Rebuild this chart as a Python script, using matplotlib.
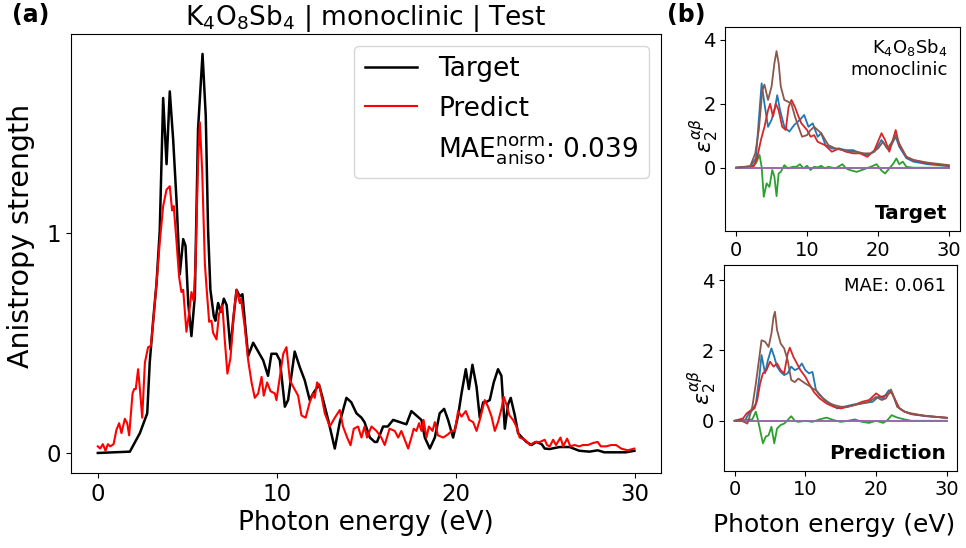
import numpy as np
import matplotlib
matplotlib.use('Agg')
from matplotlib import pyplot as plt
from matplotlib.lines import Line2D

## DATA
# panel (a): anisotropy strength vs photon energy
target_energy = [0, 1.79, 2.35, 2.76, 2.9, 3.09, 3.28, 3.46, 3.65, 3.84, 4.02, 4.21, 4.40, 4.58,
                 4.77, 4.9, 5.05, 5.23, 5.42, 5.60, 5.85, 6.03, 6.16, 6.29, 6.48, 6.57, 6.72, 6.87,
                 7.04, 7.2, 7.41, 7.56, 7.75, 7.93, 8.08, 8.21, 8.40, 8.68, 8.96, 9.24, 9.51, 9.70,
                 9.98, 10.17, 10.45, 10.63, 11.0, 11.28, 11.56, 11.84, 12.03, 12.36, 12.59, 12.87,
                 13.24, 13.52, 13.89, 14.16, 14.45, 14.73, 14.9, 15.20, 15.47, 15.6, 15.94, 16.2,
                 16.5, 16.87, 17.24, 17.52, 17.8, 18.08, 18.27, 18.55, 18.83, 19.1, 19.35, 19.57,
                 19.85, 20.13, 20.32, 20.56, 20.73, 20.93, 21.16, 21.34, 21.53, 21.68, 21.9, 22.12,
                 22.36, 22.55, 22.74, 22.92, 23.07, 23.3, 23.48, 23.7, 23.95, 24.23, 24.5, 24.8,
                 24.97, 25.25, 25.8, 26.36, 26.9, 27.47, 27.93, 28.3, 28.96, 29.5, 29.98]
target_value = [0, 0.006, 0.09, 0.18, 0.41, 0.60, 0.77, 1.01, 1.61, 1.31, 1.64, 1.42, 1.14, 0.81,
                0.97, 0.94, 0.68, 0.53, 0.71, 1.47, 1.81, 1.53, 1.01, 0.74, 0.62, 0.60, 0.68, 0.64,
                0.70, 0.67, 0.47, 0.60, 0.74, 0.71, 0.72, 0.60, 0.44, 0.50, 0.46, 0.42, 0.35, 0.45,
                0.45, 0.42, 0.21, 0.24, 0.46, 0.39, 0.33, 0.24, 0.27, 0.31, 0.24, 0.15,
                0.02, 0.14, 0.25, 0.23, 0.18, 0.16, 0.14, 0.07, 0.05, 0.05, 0.12, 0.12,
                0.15, 0.14, 0.13, 0.19, 0.17, 0.15, 0.07, 0.02, 0.07, 0.18, 0.20, 0.15,
                0.07, 0.17, 0.27, 0.38, 0.29, 0.40, 0.30, 0.16, 0.23, 0.23, 0.24, 0.32,
                0.38, 0.35, 0.11, 0.22, 0.25, 0.17, 0.09, 0.07, 0.05, 0.036, 0.05, 0.04,
                0.02, 0.018, 0.027, 0.027, 0.01, 0.006, 0.012, 0.003, 0.003, 0.003, 0.01]

pred_energy = [0, 0.13, 0.28, 0.43, 0.56, 0.69, 0.88, 1.04, 1.19, 1.32, 1.51, 1.64, 1.75, 1.94,
               2.03, 2.12, 2.25, 2.35, 2.48, 2.63, 2.81, 2.96, 3.09, 3.28, 3.46, 3.65, 3.84, 4.02,
               4.15, 4.24, 4.40, 4.54, 4.67, 4.77, 4.95, 5.10, 5.23, 5.35, 5.46, 5.6, 5.70, 5.83,
               5.98, 6.07, 6.22, 6.35, 6.44, 6.63, 6.77, 6.96, 7.09, 7.24, 7.41, 7.6, 7.75, 7.93,
               8.0, 8.21, 8.40, 8.59, 8.77, 8.96, 9.15, 9.27, 9.46, 9.65, 9.89, 9.98, 10.17, 10.36,
               10.54, 10.73, 10.92, 11.19, 11.38, 11.61, 11.84, 12.03, 12.12, 12.25, 12.4, 12.68,
               12.96, 13.24, 13.52, 13.7, 13.93, 14.12, 14.3, 14.54, 14.73, 14.9, 15.04, 15.29,
               15.57, 15.84, 16.03, 16.3, 16.59, 16.78, 16.96, 17.15, 17.34, 17.52, 17.65, 17.8,
               17.95, 18.08, 18.2, 18.36, 18.5, 18.7, 18.83, 19.0, 19.3, 19.57, 19.77, 19.95,
               20.13, 20.32, 20.56, 20.75, 20.97, 21.16, 21.34, 21.62, 21.8, 22.0, 22.18, 22.36,
               22.55, 22.68, 22.83, 23.0, 23.2, 23.39, 23.57, 23.86, 24.14, 24.42, 24.7, 24.97,
               25.1, 25.25, 25.44, 25.6, 25.85, 26.0, 26.22, 26.4, 26.63, 26.9, 27.1, 27.38,
               27.66, 27.93, 28.1, 28.4, 28.68, 28.96, 29.24, 29.6, 29.98]
pred_value = [0.03, 0.02, 0.04, 0.01, 0.04, 0.03, 0.04, 0.105, 0.135, 0.09, 0.155, 0.135, 0.08, 0.27,
              0.29, 0.29, 0.38, 0.29, 0.16, 0.41, 0.48, 0.485, 0.59, 0.77, 0.955, 1.12, 1.195, 1.21,
              1.10, 1.12, 0.955, 0.80, 0.73, 0.74, 0.55, 0.635, 0.73, 0.69, 0.86, 1.32, 1.50, 1.28,
              0.86, 0.755, 0.595, 0.60, 0.545, 0.515, 0.63, 0.67, 0.515, 0.36, 0.43, 0.635, 0.74, 0.68,
              0.70, 0.57, 0.42, 0.32, 0.25, 0.27, 0.345, 0.26, 0.32, 0.28, 0.27, 0.24, 0.345, 0.45,
              0.48, 0.33, 0.30, 0.26, 0.17, 0.16, 0.23, 0.27, 0.25, 0.32, 0.30, 0.18,
              0.12, 0.16, 0.195, 0.12, 0.07, 0.035, 0.11, 0.12, 0.07, 0.12, 0.07, 0.12,
              0.10, 0.07, 0.036, 0.11, 0.10, 0.07, 0.10, 0.06, 0.02, 0.07, 0.11, 0.10,
              0.135, 0.10, 0.15, 0.07, 0.12, 0.10, 0.14, 0.08, 0.07, 0.085, 0.10, 0.10,
              0.19, 0.165, 0.19, 0.15, 0.14, 0.10, 0.15, 0.24, 0.21, 0.165, 0.10, 0.14,
              0.20, 0.255, 0.22, 0.17, 0.15, 0.12, 0.07, 0.06, 0.036, 0.05, 0.05, 0.06,
              0.036, 0.03, 0.06, 0.036, 0.07, 0.03, 0.065, 0.03, 0.036, 0.03, 0.036, 0.036,
              0.045, 0.05, 0.03, 0.03, 0.036, 0.036, 0.02, 0.012, 0.02]

mae_aniso = 0.039

# panel (b): dielectric tensor components, target
tgt_xx_e = [0, 2, 2.8, 3.2, 3.6, 4.0, 4.5, 5.0, 5.5, 5.8, 6.2, 6.8, 7.5, 8.2, 9.0, 9.6, 10.2, 10.8,
            11.5, 12.0, 12.6, 13.5, 14.5, 15.5, 16.5, 17.5, 18.5, 19.5, 20.5, 21.0, 21.5, 22.5,
            23.0, 24.0, 25.0, 27.0, 30.0]
tgt_xx = [0, 0.03, 0.3, 1.5, 2.64, 2.0, 1.28, 1.5, 1.9, 2.27, 1.8, 1.28, 1.13, 1.34, 1.5, 1.65, 1.28,
          1.39, 0.97, 1.08, 0.71, 0.6, 0.6, 0.55, 0.55, 0.45, 0.4, 0.5, 0.87, 0.71, 0.55, 0.97,
          0.66, 0.3, 0.19, 0.11, 0.05]
tgt_xz_e = [0, 2.0, 2.8, 3.3, 3.6, 3.9, 4.3, 4.7, 5.1, 5.4, 5.7, 6.0, 6.3, 6.8, 7.3, 8.0, 8.5, 9.0,
            9.5, 10.0, 10.5, 11.0, 11.5, 12.0, 12.5, 13.0, 14.0, 15.0, 15.5, 16.0, 17.0, 18.0, 19.0,
            19.8, 20.5, 21.0, 21.5, 22.2, 22.6, 23.0, 23.5, 24.0, 25.0, 30.0]
tgt_xz = [0, 0, 0.14, 0.4, 0.03, -0.91, -0.49, -0.6, -0.07, -0.28, -0.89, -0.18, -0.13, 0.08, -0.02,
          0.03, 0.03, 0.11, -0.02, 0.06, -0.07, 0.03, 0.01, 0.06, -0.02, 0.03, -0.02, 0.11, -0.02,
          -0.07, -0.13, -0.05, 0.03, 0.11, -0.09, -0.18, -0.05, 0.14, 0.29, 0.11, 0.19, 0.03, 0, 0]
tgt_yy_e = [0, 2.5, 3.0, 3.5, 4.0, 4.5, 4.8, 5.2, 5.6, 6.0, 6.5, 7.0, 7.4, 7.8, 8.3, 8.8, 9.2, 10.0,
            10.5, 11.0, 11.5, 12.5, 13.5, 14.5, 15.5, 16.5, 17.5, 18.5, 19.5, 20.5, 21.0, 21.6, 22.5,
            23.0, 24.0, 25.0, 27.0, 30.0]
tgt_yy = [0, 0.05, 0.34, 0.87, 1.28, 1.8, 2.0, 1.6, 2.0, 1.8, 1.28, 1.18, 1.9, 2.12, 1.9, 1.6, 1.39,
          1.18, 0.97, 1.02, 0.81, 0.71, 0.5, 0.6, 0.5, 0.45, 0.45, 0.34, 0.55, 1.08, 0.87, 0.5, 1.18,
          0.71, 0.34, 0.24, 0.14, 0.06]
tgt_zz_e = [0, 2.0, 2.7, 3.2, 3.7, 4.0, 4.5, 5.0, 5.4, 5.7, 6.0, 6.3, 6.8, 7.3, 7.8, 8.3, 8.8, 9.3,
            10.0, 10.5, 11.0, 11.5, 12.0, 13.0, 14.0, 15.0, 16.0, 17.0, 18.0, 19.0, 20.0, 20.7, 21.3,
            22.0, 22.5, 23.0, 24.0, 25.0, 27.0, 30.0]
tgt_zz = [0, 0.05, 0.45, 1.18, 2.43, 2.6, 2.12, 2.54, 3.27, 3.65, 3.27, 2.54, 2.12, 2.07, 2.0, 1.6,
          1.28, 0.97, 1.02, 1.18, 1.28, 1.18, 1.08, 0.71, 0.6, 0.55, 0.5, 0.5, 0.45, 0.45, 0.6, 0.81,
          0.6, 0.81, 1.02, 0.76, 0.34, 0.24, 0.16, 0.08]

# panel (b): dielectric tensor components, prediction
prd_xx_e = [0, 1.5, 2.0, 2.5, 3.0, 3.5, 3.8, 4.3, 4.7, 5.2, 5.6, 6.0, 6.5, 7.0, 7.5, 8.0, 8.5, 9.0,
            9.5, 10.0, 10.5, 11.0, 11.5, 12.5, 13.5, 14.5, 15.5, 16.5, 17.5, 18.5, 19.5, 20.3, 21.0,
            21.8, 22.3, 23.0, 24.0, 25.0, 27.0, 30.0]
prd_xx = [0, 0.02, 0.21, 0.30, 0.49, 1.25, 1.87, 1.35, 1.72, 2.06, 1.82, 1.54, 1.39, 1.30, 1.35, 1.54,
          1.44, 1.49, 1.63, 1.44, 1.35, 1.39, 0.87, 0.64, 0.49, 0.35, 0.40, 0.45, 0.49, 0.51, 0.54,
          0.68, 0.64, 0.87, 0.78, 0.40, 0.26, 0.19, 0.13, 0.085]
prd_xz_e = [0, 2.5, 3.0, 3.3, 3.7, 4.0, 4.4, 4.8, 5.2, 5.6, 6.0, 6.5, 7.0, 7.5, 8.0, 8.5, 9.0, 10.0,
            11.0, 12.0, 13.0, 14.0, 15.0, 16.0, 17.0, 18.0, 19.0, 20.0, 21.0, 21.6, 22.2, 23.0, 24.0,
            25.0, 30.0]
prd_xz = [0, 0.04, 0.26, 0.02, -0.36, -0.64, -0.45, -0.41, -0.17, -0.64, -0.22, -0.12, -0.08, 0.02,
          0.13, 0, -0.03, 0, -0.03, 0.04, 0.09, 0.02, -0.03, 0, 0.04, -0.03, -0.06, 0, -0.06, 0.02,
          0.16, 0.09, 0.04, 0, 0]
prd_yy_e = [0, 1.2, 1.7, 2.3, 2.8, 3.2, 3.6, 4.0, 4.5, 5.0, 5.5, 6.0, 6.5, 7.0, 7.5, 7.8, 8.3, 8.8,
            9.3, 10.0, 10.5, 11.2, 12.0, 13.0, 14.0, 15.0, 16.0, 17.0, 18.0, 19.0, 20.0, 20.7, 21.5,
            22.1, 22.6, 23.3, 24.0, 25.0, 27.0, 30.0]
prd_yy = [0, 0.07, 0.21, 0.30, 0.35, 0.59, 1.06, 1.35, 1.44, 1.68, 1.54, 1.63, 1.44, 1.35, 1.91, 2.08,
          1.82, 1.63, 1.44, 1.25, 1.06, 0.82, 0.64, 0.49, 0.40, 0.35, 0.40, 0.45, 0.54, 0.59, 0.78,
          0.68, 0.73, 0.82, 0.64, 0.35, 0.26, 0.19, 0.14, 0.085]
prd_zz_e = [0, 1.0, 1.8, 2.1, 2.5, 3.0, 3.5, 3.8, 4.3, 4.8, 5.2, 5.5, 5.7, 6.0, 6.5, 7.0, 7.5, 8.0,
            8.5, 9.0, 10.0, 10.5, 11.0, 11.5, 12.0, 13.0, 14.0, 15.0, 16.0, 17.0, 18.0, 19.0, 20.0,
            20.8, 21.4, 22.1, 22.5, 23.0, 24.0, 25.0, 27.0, 30.0]
prd_zz = [0, 0, -0.08, 0.11, 0.40, 1.06, 1.82, 2.29, 2.25, 2.10, 2.48, 2.96, 3.10, 2.58, 2.20, 2.06,
          1.72, 1.16, 1.10, 1.20, 1.06, 1.00, 0.92, 0.87, 0.73, 0.54, 0.45, 0.40, 0.40, 0.45, 0.49,
          0.54, 0.68, 0.59, 0.64, 0.89, 0.68, 0.40, 0.26, 0.21, 0.14, 0.085]

# off-diagonal xy and yz are zero for monoclinic
zero_e = [0, 30]
zero_v = [0, 0]

mae_pred = 0.061

fig = plt.figure(figsize=(9.66, 5.48), dpi=100)

## panel (a)
ax = fig.add_axes([0.0735, 0.137, 0.611, 0.801])
ax.plot(target_energy, target_value, color='black', lw=1.8, label='Target')
ax.plot(pred_energy, pred_value, color='red', lw=1.5, label='Predict')
ax.set_yticks([0, 1])
ax.set_yticklabels(['0', '1'])
ax.set_xticks([0, 10, 20, 30])
ax.tick_params(labelsize=16.5)
ax.set_xlabel('Photon energy (eV)', fontsize=19, labelpad=3)
ax.set_ylabel('Anistropy strength', fontsize=20.5)
ax.yaxis.set_label_coords(-0.061, 0.54)
ax.set_title(r'K$_4$O$_8$Sb$_4$ | monoclinic | Test', fontsize=19, pad=4)

handles, labels = ax.get_legend_handles_labels()
handles.append(Line2D([], [], color='none'))
labels.append(r'MAE$_{\rm aniso}^{\rm norm}$: %.3f' % mae_aniso)
ax.legend(handles, labels, loc='upper right', fontsize=19, borderaxespad=0.45)

fig.text(0.012, 0.972, '(a)', fontsize=17, fontweight='bold', va='center')
fig.text(0.69, 0.972, '(b)', fontsize=17, fontweight='bold', va='center')

## panel (b)
panels = [
    ([0.751, 0.5785, 0.2423, 0.372], (-1.98, 4.4), 0.47,
     [(tgt_xx_e, tgt_xx), (zero_e, zero_v), (tgt_xz_e, tgt_xz), (tgt_yy_e, tgt_yy),
      (zero_e, zero_v), (tgt_zz_e, tgt_zz)], 'Target'),
    ([0.7495, 0.141, 0.2417, 0.3754], (-1.42, 4.43), 0.405,
     [(prd_xx_e, prd_xx), (zero_e, zero_v), (prd_xz_e, prd_xz), (prd_yy_e, prd_yy),
      (zero_e, zero_v), (prd_zz_e, prd_zz)], 'Prediction'),
]
for rect, ylim, label_y, comps, tag in panels:
    bx = fig.add_axes(rect)
    for e, v in comps:
        bx.plot(e, v, lw=1.3)
    bx.set_ylim(*ylim)
    bx.set_xticks([0, 10, 20, 30])
    bx.set_yticks([0, 2, 4])
    bx.tick_params(labelsize=14)
    bx.set_ylabel(r'$\varepsilon_2^{\alpha\beta}$', fontsize=16)
    bx.yaxis.set_label_coords(-0.02, label_y)
    bx.text(0.95, 0.04, tag, transform=bx.transAxes, ha='right', va='bottom',
            fontsize=14.5, fontweight='bold')
    if tag == 'Target':
        bx.text(0.95, 0.95, 'K$_4$O$_8$Sb$_4$\nmonoclinic', transform=bx.transAxes,
                ha='right', va='top', fontsize=13, multialignment='right')
    else:
        bx.text(0.95, 0.94, 'MAE: %.3f' % mae_pred, transform=bx.transAxes,
                ha='right', va='top', fontsize=13)

fig.text(0.864, 0.042, 'Photon energy (eV)', fontsize=18, ha='center', va='center')

fig.savefig('out.png', dpi=100)
